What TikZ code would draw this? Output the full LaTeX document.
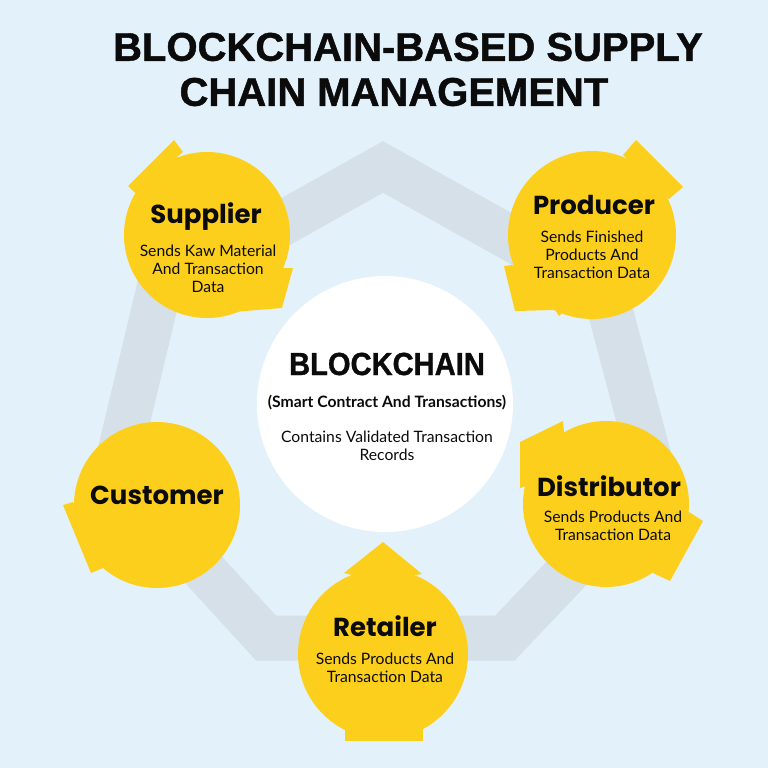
\documentclass[tikz,border=0pt]{standalone}
\usepackage{fontspec}
\setmainfont{Lato}
\newfontfamily\headfont{Poppins}
\newfontfamily\titlefont[FakeBold=1.2]{Liberation Sans}
\newfontfamily\chainfont[FakeStretch=0.91,FakeBold=1]{Liberation Sans}
\usetikzlibrary{positioning}
\definecolor{skybg}{HTML}{E3F1FA}
\definecolor{ringgrey}{HTML}{D5E0E8}
\definecolor{blobyellow}{HTML}{FDCF1D}
\definecolor{inkblack}{HTML}{0B0B0B}

\begin{document}
\begin{tikzpicture}[x=1pt, y=-1pt, inner sep=0pt, outer sep=0pt,
                    blob/.style={circle,fill=blobyellow,minimum size=#1},
                    arrowpart/.style={fill=blobyellow},
                    head/.style={font=\headfont\bfseries\fontsize{26}{30}\selectfont,text=inkblack},
                    body/.style={font=\fontsize{15.7}{18}\selectfont,align=center,text=inkblack},
                    bigtitle/.style={font=\titlefont\bfseries\fontsize{40}{44}\selectfont,text=inkblack}]
  \fill[skybg] (0,0) rectangle (768,768);
  \useasboundingbox (0,0) rectangle (768,768);

  % ring behind everything
  \coordinate (top) at (383,167);
  \coordinate (right up) at (605,291);
  \coordinate (right low) at (655,480);
  \coordinate (bottom right) at (505,638);
  \coordinate (bottom left) at (266,638);
  \coordinate (left low) at (115,473);
  \coordinate (left up) at (158,293);
  \draw[ringgrey, line width=45pt, line join=miter]
    (top) -- (right up) -- (right low) -- (bottom right) -- (bottom left)
    -- (left low) -- (left up) -- cycle;

  % arrow parts of the circles
  \fill[arrowpart] (183,152) -- (174,140) -- (128,186) -- (135,193) -- cycle;
  \fill[arrowpart] (283,268) -- (293,268) -- (282,308) -- (233,312) -- cycle;
  \fill[arrowpart] (623,155) -- (636,140) -- (683,187) -- (669,199) -- cycle;
  \fill[arrowpart] (512,265) -- (504,266) -- (515,311) -- (555,310) -- (559,316) -- (575,300) -- cycle;
  \fill[arrowpart] (564,432) -- (563,421) -- (520,442) -- (520,488) -- (526,486) -- cycle;
  \fill[arrowpart] (689,512) -- (703,521) -- (670,581) -- (653,573) -- cycle;
  \fill[arrowpart] (383,542) -- (422,574) -- (415,575) -- (383,600) -- (352,575) -- (344,573) -- cycle;
  \fill[arrowpart] (345,700) -- (345,741) -- (423,741) -- (423,700) -- cycle;
  \fill[arrowpart] (73,502) -- (63,505) -- (91,573) -- (103,568) -- cycle;

  \node[blob=166pt] (supplier) at (207,235) {};
  \node[blob=168pt] (producer) at (592,235) {};
  \node[blob=166pt] (distributor) at (606,504) {};
  \node[blob=170pt] (retailer) at (383,654) {};
  \node[blob=166pt] (customer) at (157,505) {};
  \node[circle,fill=white,minimum size=256pt] (chain) at (385,404) {};

  \node[bigtitle] (title one) at (408,47) {BLOCKCHAIN-BASED SUPPLY};
  \node[bigtitle] (title two) at (394,92) {CHAIN MANAGEMENT};

  \node[head] (supplier head) at (206,217) {Supplier};
  \node[body] (supplier text) at (208,269) {Sends Kaw Material\\And Transaction\\Data};
  \node[head] (producer head) at (594,205) {Producer};
  \node[body] (producer text) at (592,255) {Sends Finished\\Products And\\Transaction Data};
  \node[head] (distributor head) at (609,486) {Distributor};
  \node[body] (distributor text) at (613,526) {Sends Products And\\Transaction Data};
  \node[head] (retailer head) at (385,626) {Retailer};
  \node[body] (retailer text) at (385,668) {Sends Products And\\Transaction Data};
  \node[head] (customer head) at (157,495) {Customer};

  \node[font=\chainfont\bfseries\fontsize{32}{36}\selectfont,text=inkblack] (chain head) at (387,364) {BLOCKCHAIN};
  \node[body,font=\bfseries\fontsize{15.7}{18}\selectfont] (chain sub) at (387,403) {(Smart Contract And Transactions)};
  \node[body] (chain text) at (387,446) {Contains Validated Transaction\\Records};
\end{tikzpicture}
\end{document}
